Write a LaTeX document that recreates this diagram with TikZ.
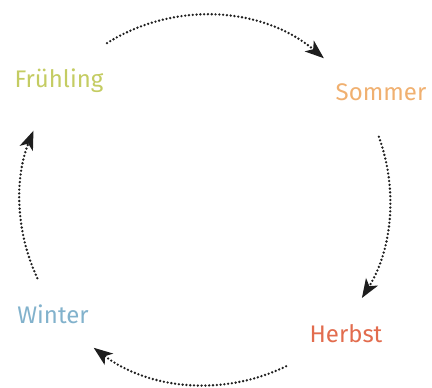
\documentclass[tikz,border=0pt]{standalone}
\usepackage{fontspec}
\setmainfont{Fira Sans}
\usetikzlibrary{arrows.meta}
\definecolor{cfr}{RGB}{196,204,98}
\definecolor{cso}{RGB}{240,176,112}
\definecolor{che}{RGB}{226,108,78}
\definecolor{cwi}{RGB}{130,178,204}
\definecolor{cdot}{RGB}{30,30,30}
\tikzset{
  season/.style={anchor=base, inner sep=0pt, font=\fontsize{24}{26}\selectfont},
  conn/.style={draw=cdot, line width=2.6pt, line cap=round, dash pattern=on 0pt off 3.8pt,
    -{Stealth[length=19pt, width=14pt, inset=5pt, fill=cdot]}}
}
\begin{document}
\begin{tikzpicture}[x=1pt, y=1pt]
\useasboundingbox (0,0) rectangle (432,388);
\coordinate (c) at (205,188);
\node[season, text=cfr] (fr) at (59,300) {Frühling};
\node[season, text=cso] (so) at (381,287) {Sommer};
\node[season, text=che] (he) at (346,45) {Herbst};
\node[season, text=cwi] (wi) at (53,64) {Winter};
\path (c) ++(122:185) coordinate (a1);
\path (c) ++(20:185) coordinate (a2);
\path (c) ++(-64:185) coordinate (a3);
\path (c) ++(-155:185) coordinate (a4);
\draw[conn] (a1) arc[start angle=122, end angle=50, radius=185];
\draw[conn] (a2) arc[start angle=20, end angle=-32, radius=185];
\draw[conn] (a3) arc[start angle=-64, end angle=-127, radius=185];
\draw[conn] (a4) arc[start angle=-155, end angle=-202, radius=185];
\end{tikzpicture}
\end{document}
